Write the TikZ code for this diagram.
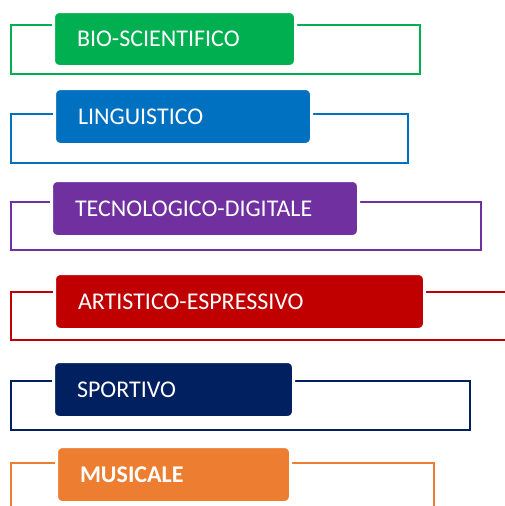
\documentclass[tikz,border=0pt]{standalone}
\usepackage{fontspec}
\setmainfont{Carlito}
\usepackage{tikz}
\usetikzlibrary{positioning}
\definecolor{bio}{HTML}{00B050}
\definecolor{lingua}{HTML}{0070C0}
\definecolor{tecno}{HTML}{7030A0}
\definecolor{arte}{HTML}{C00000}
\definecolor{sport}{HTML}{002060}
\definecolor{musica}{HTML}{ED7D31}

\begin{document}
\begin{tikzpicture}[x=1pt,y=-1pt]
	\tikzstyle{frame}=[rectangle, line width=2.2pt, inner sep=0pt, outer sep=0pt, anchor=north west]
	\tikzstyle{area}=[rectangle, rounded corners=6pt, draw=white, line width=3pt, inner sep=0pt,
	inner xsep=23.5pt, outer sep=0pt, anchor=north west, text=white, align=left,
	font=\fontsize{24}{28}\selectfont, minimum height=56pt]
	\useasboundingbox (0,0) rectangle (504,506);
	% frames
	\node (BioFrame) [frame, draw=bio, minimum width=409pt, minimum height=49pt] at (11,25) {};
	\node (LinguaFrame) [frame, draw=lingua, minimum width=397pt, minimum height=49pt] at (11,114) {};
	\node (TecnoFrame) [frame, draw=tecno, minimum width=470pt, minimum height=48pt] at (11,202) {};
	\node (ArteFrame) [frame, draw=arte, minimum width=500pt, minimum height=48pt] at (11,292) {};
	\node (SportFrame) [frame, draw=sport, minimum width=459pt, minimum height=49pt] at (11,381) {};
	\node (MusicaFrame) [frame, draw=musica, minimum width=423pt, minimum height=60pt] at (11,463) {};
	% titles
	\node (Bio) [area, fill=bio, minimum width=242pt, text width=195pt, minimum height=55pt] at (53.5,11.5) {BIO-SCIENTIFICO};
	\node (Lingua) [area, fill=lingua, minimum width=257pt, text width=210pt] at (54.5,88.5) {LINGUISTICO};
	\node (Tecno) [area, fill=tecno, minimum width=307pt, text width=260pt] at (51.5,180.5) {TECNOLOGICO-DIGITALE};
	\node (Arte) [area, fill=arte, minimum width=370pt, text width=323pt] at (54.5,273.5) {ARTISTICO-ESPRESSIVO};
	\node (Sport) [area, fill=sport, minimum width=240pt, text width=193pt] at (53.5,361.5) {SPORTIVO};
	\node (Musica) [area, fill=musica, minimum width=234pt, text width=187pt] at (56.5,446.5) {\textbf{MUSICALE}};
\end{tikzpicture}
\end{document}
